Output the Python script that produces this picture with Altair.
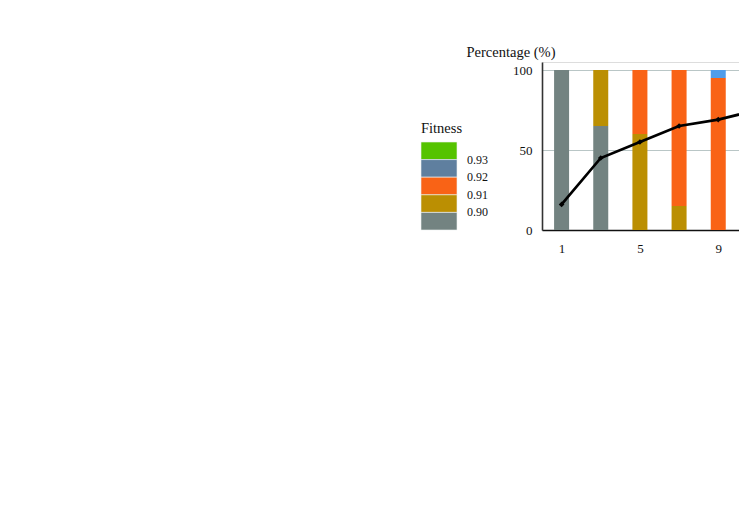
import altair as alt
import pandas as pd

# ---- data ----
steps = [1, 3, 5, 7, 9]
fitness_levels = ["0.90", "0.91", "0.92", "0.93"]
pct_090 = [100, 65, 0, 0, 0]
pct_091 = [0, 35, 60, 15, 0]
pct_092 = [0, 0, 40, 85, 95]
pct_093 = [0, 0, 0, 0, 5]
bar_colors = ["#738381", "#BB8F02", "#F96316", "#4F9DEA"]

line_x = [1, 3, 5, 7, 9, 11]
line_y = [16, 45, 55, 65, 69, 75]

legend_levels = ["0.94", "0.93", "0.92", "0.91", "0.90"]
legend_labels = ["", "0.93", "0.92", "0.91", "0.90"]
legend_colors = ["#55C300", "#5F7F9F", "#F96316", "#BB8F02", "#738381"]

x_ticks = [1, 5, 9, 13]
y_ticks = [0, 50, 100]

# ---- tables ----
rows = []
for lvl, vals in zip(fitness_levels, [pct_090, pct_091, pct_092, pct_093]):
    for s, v in zip(steps, vals):
        rows.append({"step": s, "fitness": lvl, "pct": v})
bars_df = pd.DataFrame(rows)
line_df = pd.DataFrame({"step": line_x, "value": line_y})
legend_df = pd.DataFrame({"level": legend_levels, "label": legend_labels})

FONT = "Liberation Serif"

x_scale = alt.Scale(domain=[0, 12], nice=False, zero=True, range=[0, 235], padding=0)
x_enc = alt.X("step:Q", scale=x_scale,
              axis=alt.Axis(values=x_ticks, title=None, ticks=False, grid=False,
                            labelPadding=12, domainColor="#111", domainWidth=1.6,
                            labelFont=FONT, labelFontSize=13, labelColor="#111"))
y_scale = alt.Scale(domain=[0, 105], nice=False, padding=0)

bars = alt.Chart(bars_df).mark_bar(size=15).encode(
    x=x_enc,
    y=alt.Y("pct:Q", stack="zero", scale=y_scale,
            axis=alt.Axis(values=y_ticks, title="Percentage (%)", ticks=False,
                          grid=True, gridColor="#B9C6C6", gridWidth=1.2,
                          domainColor="#333", domainWidth=1.6,
                          labelPadding=10, labelFont=FONT, labelFontSize=13,
                          labelColor="#111",
                          titleAngle=0, titleAlign="left", titleX=-76, titleY=-10,
                          titleBaseline="middle", titleFont=FONT, titleFontSize=14.5,
                          titleFontWeight="normal", titleColor="#111")),
    color=alt.Color("fitness:N", scale=alt.Scale(domain=fitness_levels, range=bar_colors),
                    legend=None),
    order=alt.Order("fitness:N", sort="ascending"),
)

line = alt.Chart(line_df).mark_line(color="#000", strokeWidth=2.7).encode(
    x=alt.X("step:Q", scale=x_scale), y=alt.Y("value:Q", scale=y_scale)
)
pts = alt.Chart(line_df).mark_point(shape="diamond", filled=True, color="#000",
                                    size=32, opacity=1).encode(
    x=alt.X("step:Q", scale=x_scale), y=alt.Y("value:Q", scale=y_scale)
)

main = alt.layer(bars, line, pts)

leg_scale = alt.Scale(domain=legend_levels, range=[80, 168], paddingInner=0, paddingOuter=0)
leg_rect = alt.Chart(legend_df).mark_rect(stroke="#EEF2F2", strokeWidth=0.6).encode(
    x=alt.value(-121), x2=alt.value(-85),
    y=alt.Y("level:N", scale=leg_scale, axis=None),
    color=alt.Color("level:N", scale=alt.Scale(domain=legend_levels, range=legend_colors),
                    legend=None),
)
leg_text = alt.Chart(legend_df).mark_text(align="left", baseline="middle", font=FONT,
                                          fontSize=12, color="#111").encode(
    x=alt.value(-75),
    y=alt.Y("level:N", scale=leg_scale, axis=None, bandPosition=0),
    text="label:N",
)
leg_title = alt.Chart(pd.DataFrame({"t": ["Fitness"]})).mark_text(
    align="left", baseline="middle", font=FONT, fontSize=14.5, color="#111"
).encode(x=alt.value(-121), y=alt.value(67), text="t:N")

legend = alt.layer(leg_rect, leg_text, leg_title)

chart = alt.layer(main, legend).resolve_scale(
    y="independent", color="independent"
).properties(
    width=197, height=168,
    autosize=alt.AutoSizeParams(type="none"),
    padding={"left": 534, "top": 54, "right": 0, "bottom": 40},
).configure_view(stroke=None).configure(background="white")

chart.save("out.html", embed_options={"renderer": "svg", "actions": False})
